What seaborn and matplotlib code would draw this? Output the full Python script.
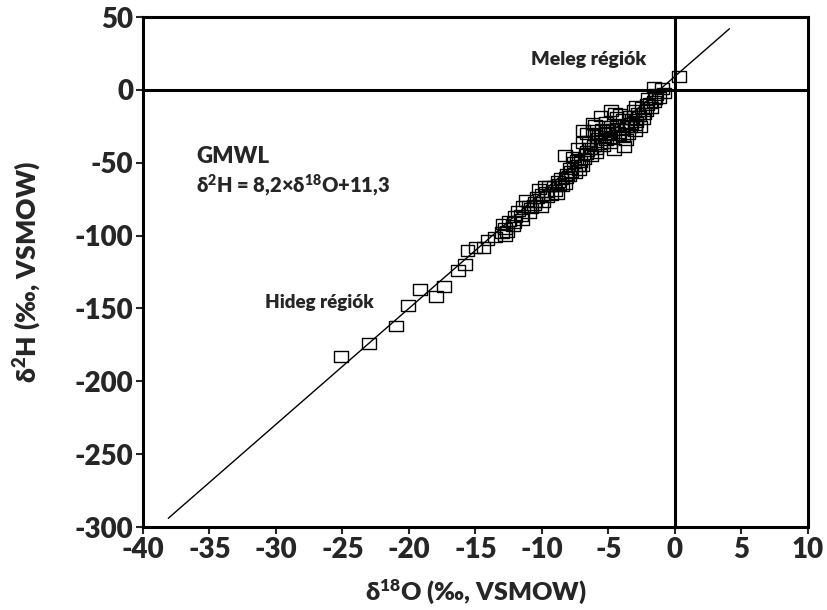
import numpy as np
import matplotlib
matplotlib.use("Agg")
import matplotlib.pyplot as plt
import seaborn as sns
from matplotlib.path import Path

# delta-18O / delta-2H samples (per mil, VSMOW)
d18o = [-25.1, -23.0, -21.0, -20.1, -19.2, -18.0, -17.4, -16.3, -15.8, -15.6, -15.0, -14.4, -14.1,
        -13.5, -12.8, -12.8, -12.9, -12.5, -12.0, -11.5, -11.8, -11.0, -11.2, -10.6, -10.4, -9.9,
        -10.2, -9.7, -9.5, -9.0, -8.8, -8.6, -8.3, -8.1, -7.9, -8.0, -7.6, -7.4, -7.2, -7.0, -7.7,
        -6.8, -6.6, -6.4, -6.9, -6.6, -6.2, -6.0, -5.8, -5.6, -5.4, -5.2, -5.0, -4.9, -4.7, -5.2,
        -4.5, -4.4, -4.2, -4.0, -3.9, -3.7, -3.5, -3.4, -3.2, -3.0, -3.1, -2.9, -2.7, -2.5, -2.3,
        -2.1, -2.0, -1.8, -1.6, -1.4, -1.2, -1.0, -0.8, 0.3, -5.9, -6.3, -4.6, -3.8, -9.3, -8.5,
        -10.8, -12.2, -7.5, -5.5, -4.1, -2.6,
        -12.6, -12.1, -11.6, -11.0, -10.5, -10.0, -9.6, -9.1, -8.7, -8.2, -7.8, -7.3, -6.7, -6.1,
        -5.7, -5.3, -4.8, -4.3, -3.6, -3.3, -2.8, -2.4, -2.2, -1.9, -1.5, -6.5, -5.9, -5.1, -4.4,
        -3.9, -3.4, -9.8, -8.9, -11.4, -7.1, -6.0, -4.9, -3.0, -13.0, -10.1,
        -6.2, -6.9, -4.8, -8.3, -5.6, -7.3, -1.6, -2.9]
d2h = [-183, -174, -162, -148, -137, -142, -135, -124, -120, -110, -108, -108, -103,
       -101, -100, -95, -92, -90, -87, -89, -83, -84, -76, -79, -74, -77,
       -68, -70, -66, -69, -63, -61, -64, -58, -54, -59, -50, -48, -55, -52, -46,
       -47, -42, -40, -36, -30, -28, -24, -33, -37, -38, -34, -30, -36, -27, -22,
       -16, -24, -31, -27, -20, -34, -30, -25, -20, -28, -14, -22, -18, -12, -16,
       -10, -6, -12, -8, -3, -5, 1, -2, 9, -40, -45, -41, -39, -72, -66,
       -81, -93, -57, -27, -17, -25,
       -97, -91, -86, -80, -77, -72, -73, -66, -65, -60, -56, -52, -44, -38,
       -30, -32, -25, -29, -25, -23, -16, -20, -14, -9, -6, -35, -43, -28, -19,
       -32, -18, -66, -71, -80, -49, -31, -33, -24, -98, -80,
       -23, -28, -14, -45, -18, -40, 2, -11]

# meteoric water line as drawn
line_x = [-38.1, 4.1]
line_y = [-294, 42]

x_ticks = [-40, -35, -30, -25, -20, -15, -10, -5, 0, 5, 10]
y_ticks = [50, 0, -50, -100, -150, -200, -250, -300]

sns.set_style("white")
plt.rcParams['font.family'] = ['Lato', 'DejaVu Sans']
plt.rcParams['axes.unicode_minus'] = False
plt.rcParams['mathtext.fontset'] = 'custom'
plt.rcParams['mathtext.rm'] = 'Lato:heavy'
plt.rcParams['mathtext.bf'] = 'Lato:heavy'
plt.rcParams['mathtext.default'] = 'bf'

fig = plt.figure(figsize=(8.28, 6.10), dpi=100)
ax = fig.add_axes([0.1727, 0.136, 0.8031, 0.836])

box = Path([(-1.3, -1), (1.3, -1), (1.3, 1), (-1.3, 1), (-1.3, -1)],
           [Path.MOVETO, Path.LINETO, Path.LINETO, Path.LINETO, Path.CLOSEPOLY])

ax.axhline(0, color='black', lw=2.2, zorder=1)
ax.axvline(0, color='black', lw=2.2, zorder=1)

sns.lineplot(x=line_x, y=line_y, color='black', lw=1.0, ax=ax, zorder=2)
sns.scatterplot(x=d18o, y=d2h, marker=box, s=100, facecolor='none', edgecolor='black',
                linewidth=1.0, ax=ax, zorder=3)

ax.set_xlim(-40, 10)
ax.set_ylim(-300, 50)
ax.set_xticks(x_ticks)
ax.set_yticks(y_ticks)
ax.tick_params(axis='both', direction='out', length=5, width=1.5, labelsize=20,
               bottom=True, left=True, pad=2)
for lab in ax.get_xticklabels() + ax.get_yticklabels():
    lab.set_fontweight('heavy')
for sp in ax.spines.values():
    sp.set_linewidth(2.2)
    sp.set_color('black')

ax.set_xlabel('δ$^{18}$O (‰, VSMOW)', fontsize=18, fontweight='heavy', labelpad=10)
ax.set_ylabel('δ$^{2}$H (‰, VSMOW)', fontsize=19, fontweight='heavy', labelpad=22)

ax.text(-36.0, -46, 'GMWL', fontsize=16, fontweight='heavy', va='center', ha='left')
ax.text(-36.0, -66, 'δ$^{2}$H = 8,2×δ$^{18}$O+11,3', fontsize=14.5, fontweight='heavy',
        va='center', ha='left')
ax.text(-10.8, 21, 'Meleg régiók', fontsize=14, fontweight='heavy', va='center', ha='left')
ax.text(-30.8, -146, 'Hideg régiók', fontsize=13.5, fontweight='heavy', va='center', ha='left')

fig.savefig('out.png', dpi=100)
